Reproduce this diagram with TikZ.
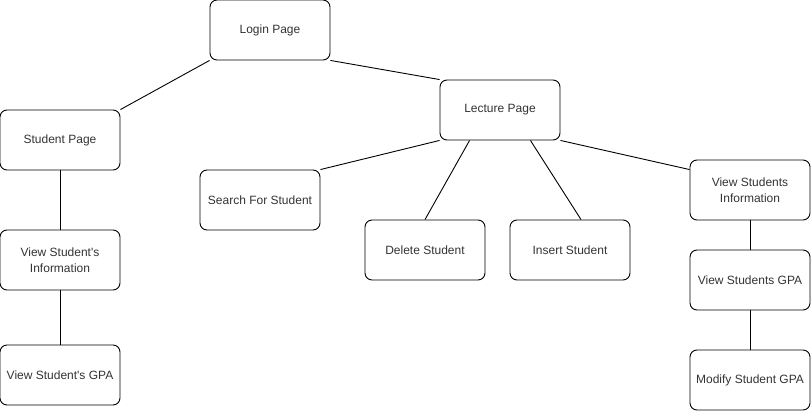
\documentclass[tikz,border=0pt]{standalone}
\usepackage{fontspec}
\setmainfont{Liberation Sans}[Ligatures=TeXOff]
\usetikzlibrary{calc}
\tikzset{
	box/.style={draw=black, line width=0.9pt, rounded corners=7pt, minimum width=120pt, minimum height=60pt, align=center, inner sep=2pt, text=black!80, font=\fontsize{12}{15.5}\selectfont},
	link/.style={line width=0.9pt}
}
\begin{document}
\begin{tikzpicture}[x=1pt, y=-1pt]
			\useasboundingbox (0,0) rectangle (811,411);
			\node[box] (login) at (270,30) {Login Page};
			\node[box] (student) at (60,140) {Student Page};
			\node[box] (sinfo) at (60,260) {View Student's\\Information};
			\node[box] (sgpa) at (60,375) {View Student's GPA};
			\node[box] (lecture) at (500,110) {Lecture Page};
			\node[box] (search) at (260,200) {Search For Student};
			\node[box] (delete) at (425,250) {Delete Student};
			\node[box] (insert) at (570,250) {Insert Student};
			\node[box] (linfo) at (750,190) {View Students\\Information};
			\node[box] (lgpa) at (750,280) {View Students GPA};
			\node[box] (modify) at (750,380) {Modify Student GPA};
			\draw[link] (login.south west)--(student.north east);
			\draw[link] (login.south east)--(lecture.north west);
			\draw[link] (student)--(sinfo);
			\draw[link] (sinfo)--(sgpa);
			\draw[link] (lecture.south west)--(search.north east);
			\draw[link] ($(lecture.south west)+(30,0)$)--(delete.north);
			\draw[link] ($(lecture.south east)+(-30,0)$)--($(insert.north)+(11,0)$);
			\draw[link] (lecture.south east)--($(linfo.north west)+(0,10)$);
			\draw[link] (linfo)--(lgpa);
			\draw[link] (lgpa)--(modify);
		\end{tikzpicture}
\end{document}
